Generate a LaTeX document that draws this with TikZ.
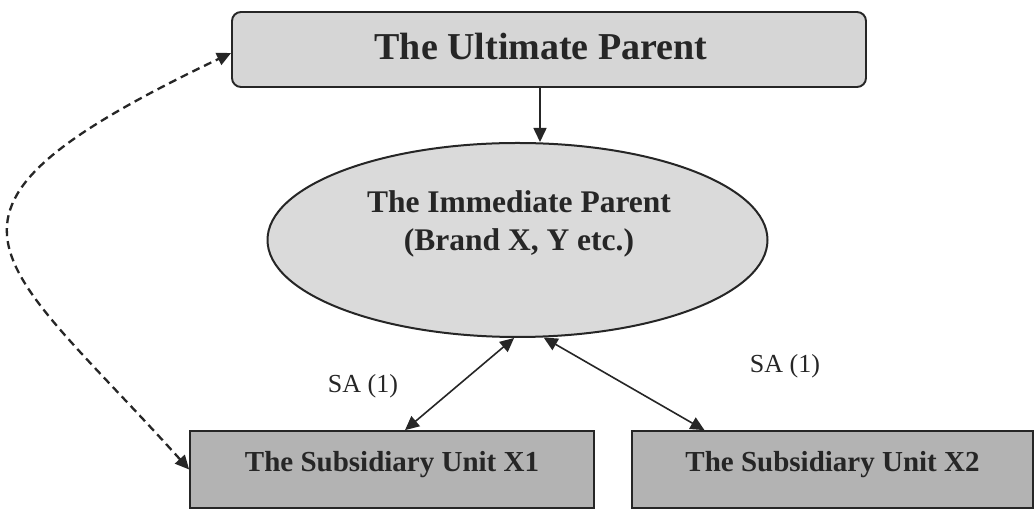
\documentclass[tikz,border=0pt]{standalone}
\usepackage{fontspec}
\setmainfont{Liberation Serif}
\usetikzlibrary{shapes.geometric,arrows.meta}
\definecolor{inkc}{HTML}{262626}
\definecolor{paleFill}{HTML}{D6D6D6}
\definecolor{ovalFill}{HTML}{DADADA}
\definecolor{unitFill}{HTML}{B3B3B3}
\begin{document}
\begin{tikzpicture}[x=1pt,y=1pt,
  every node/.style={text=inkc},
  parentbox/.style={draw=inkc, line width=1.9pt, fill=paleFill, rounded corners=9pt,
    minimum width=634pt, minimum height=75pt, inner sep=0pt,
    font=\fontsize{38}{44}\selectfont\bfseries, text height=26pt, text depth=5pt},
  oval/.style={ellipse, draw=inkc, line width=2pt, fill=ovalFill,
    minimum width=500pt, minimum height=194pt, inner sep=0pt},
  ovaltext/.style={align=center, font=\fontsize{31.5}{38}\selectfont\bfseries, inner sep=0pt},
  unitbox/.style={draw=inkc, line width=1.7pt, fill=unitFill, minimum height=77pt, inner sep=0pt,
    font=\fontsize{29}{34}\selectfont\bfseries, text height=20pt, text depth=16pt},
  salabel/.style={font=\fontsize{26}{30}\selectfont, inner sep=0pt},
  link/.style={draw=inkc, line width=1.6pt},
  head/.style={-{Triangle[length=14pt,width=13pt]}},
  heads/.style={{Triangle[length=14pt,width=13pt]}-{Triangle[length=14pt,width=13pt]}},
  dashlink/.style={draw=inkc, line width=2.3pt, dash pattern=on 8pt off 5pt},
]
\fill[white] (0,0) rectangle (1034,511);
\useasboundingbox (0,0) rectangle (1034,511);

% boxes and oval
\node[parentbox] (up) at (549,461.5) {\hspace*{-16pt}The Ultimate Parent};
\node[oval] (imm) at (517.5,271) {};
\node[ovaltext] (immtext) at (519,287) {The Immediate Parent\\(Brand X, Y etc.)};
\node[unitbox, minimum width=404pt] (x1) at (392,41.5) {The Subsidiary Unit X1};
\node[unitbox, minimum width=401pt] (x2) at (832.5,41.5) {The Subsidiary Unit X2};

% edge labels
\node[salabel] (sa1) at (363,125) {SA (1)};
\node[salabel] (sa2) at (785,145) {SA (1)};

% connectors
\coordinate (drop) at ([xshift=-9pt]up.south);
\draw[link, head] (drop) -- (drop |- imm.north);
\draw[link, heads] ([xshift=13pt]x1.north) -- (imm.268);
\draw[link, heads] (imm.285) -- ([xshift=-128pt]x2.north);
\draw[dashlink, heads] (x1.west) .. controls +(132:291) and +(205.5:375) .. ([yshift=-3.5pt]up.west);
\end{tikzpicture}
\end{document}
